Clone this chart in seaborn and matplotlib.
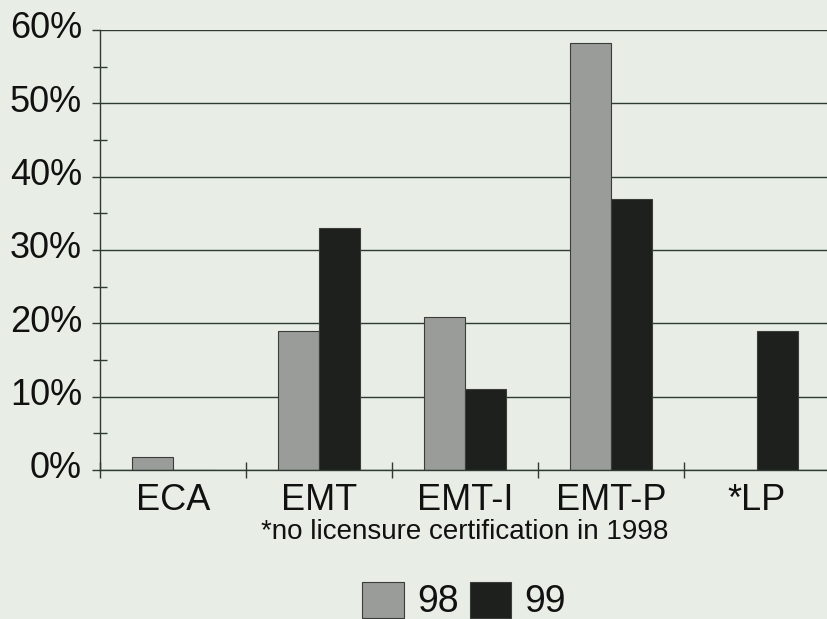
import numpy as np
import pandas as pd
import seaborn as sns
import matplotlib.pyplot as plt
from matplotlib.ticker import FuncFormatter, MultipleLocator, FixedLocator
from matplotlib.transforms import ScaledTranslation

# Data (percent)
categories = ['ECA', 'EMT', 'EMT-I', 'EMT-P', '*LP']
pct_98 = [1.8, 19.0, 20.8, 58.2, np.nan]
pct_99 = [0.0, 33.0, 11.0, 37.0, 18.9]
years = ['98', '99']
footnote = '*no licensure certification in 1998'

df = pd.DataFrame({
    'Program': categories * 2,
    'Percent': pct_98 + pct_99,
    'Year': [years[0]] * len(categories) + [years[1]] * len(categories),
})

bg = '#e8eee6'
ink = '#2f3a33'

sns.set_theme(style='white')
plt.rcParams['font.family'] = ['Liberation Sans', 'DejaVu Sans']

fig = plt.figure(figsize=(8.27, 6.19), dpi=100, facecolor=bg)
ax = fig.add_axes([100 / 827, 1 - 470 / 619, 730 / 827, 440 / 619])
ax.set_facecolor(bg)

sns.barplot(data=df, x='Program', y='Percent', hue='Year',
            order=categories, hue_order=years,
            palette=['#999c98', '#1d201d'], saturation=1,
            width=0.56, edgecolor='#3a3d3a', linewidth=0.8, ax=ax)

ax.set_xlim(-0.5, len(categories) - 0.5)
ax.set_ylim(0, 60)
ax.set_xlabel('')
ax.set_ylabel('')

# gridlines behind bars
ax.set_axisbelow(True)
ax.yaxis.grid(True, color=ink, linewidth=1.0)
ax.xaxis.grid(False)

for s in ['top', 'right']:
    ax.spines[s].set_visible(False)
for s in ['left', 'bottom']:
    ax.spines[s].set_color(ink)
    ax.spines[s].set_linewidth(1.0)

# y axis ticks
ax.yaxis.set_major_locator(MultipleLocator(10))
ax.yaxis.set_minor_locator(MultipleLocator(5))
ax.yaxis.set_major_formatter(FuncFormatter(lambda v, p: f'{v:.0f}%'))
ax.tick_params(axis='y', which='major', left=True, direction='out', length=6,
               width=1, color=ink, pad=7, labelsize=26, labelcolor='#111111')
ax.tick_params(axis='y', which='minor', left=True, direction='inout', length=10,
               width=1, color=ink)
# labels sit a little above their gridline in the original
shift = ScaledTranslation(0, 5 / 100, fig.dpi_scale_trans)
for lab in ax.get_yticklabels():
    lab.set_transform(lab.get_transform() + shift)

# x axis ticks: labels centred, separators between groups
ax.set_xticks(range(len(categories)))
ax.set_xticklabels(categories)
ax.xaxis.set_minor_locator(FixedLocator(np.arange(-0.5, len(categories), 1.0)))
ax.tick_params(axis='x', which='major', bottom=True, length=0, pad=9,
               labelsize=26, labelcolor='#111111')
ax.tick_params(axis='x', which='minor', bottom=True, direction='inout', length=11,
               width=1, color=ink)

# legend at bottom
handles, labels = ax.get_legend_handles_labels()
ax.get_legend().remove()
fig.legend(handles, labels, loc='center', bbox_to_anchor=(464 / 827, 1 - 601 / 619),
           ncol=2, frameon=False, fontsize=27, handlelength=1.1, handleheight=1.1,
           handletextpad=0.35, columnspacing=0.3, labelcolor='#111111')

fig.text(465 / 827, 1 - 532 / 619, footnote, ha='center', va='center',
         fontsize=20, color='#111111')

fig.savefig('out.png', dpi=100, facecolor=bg)
